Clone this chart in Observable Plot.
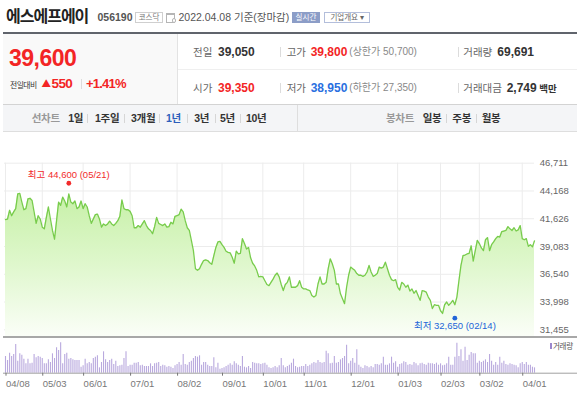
<!DOCTYPE html>
<html><head><meta charset="utf-8">
<script src="https://cdn.jsdelivr.net/npm/d3@7"></script>
<script src="https://cdn.jsdelivr.net/npm/@observablehq/plot@0.6"></script>
<style>
body{margin:0;width:580px;height:397px;overflow:hidden;background:#fff;position:relative;font-family:"Liberation Sans","Noto Sans CJK KR",sans-serif}
.a{position:absolute;white-space:nowrap;line-height:16px;height:16px}
.b{position:absolute;box-sizing:border-box}
.plot{position:absolute;left:0}
</style></head><body>
<script>
// ---- data ----
const closes = [
41550,41600,42400,41900,42250,42550,43900,43950,43150,42450,
42550,43450,43500,43300,42250,41200,41900,41600,40850,40700,
41750,42700,41600,40550,39750,41450,43150,42850,43600,43250,
42700,43900,43150,43000,43250,42550,42700,43250,42550,43000,
42700,41900,41200,41600,42000,42050,41600,40850,41150,41000,
41150,41400,41150,41000,41200,41450,41850,43350,42550,42450,
42450,42300,41900,40800,40800,41000,40850,41150,41450,41000,
40700,40550,40250,40900,41750,41200,41100,41000,41150,40850,
40900,41300,41150,41850,41900,42000,42500,42250,41450,40800,
40550,39650,38700,37050,36900,37050,37450,37800,37850,37800,
37600,37450,38250,39000,39500,39550,39250,39000,38650,38550,
38500,38100,37550,38650,38400,38450,39800,39350,38850,39000,
38050,37550,37300,36900,36300,36350,36300,35950,35600,35500,
35800,36100,36450,36650,36300,35600,35050,
35600,35800,36300,35350,35350,35350,35500,35950,35350,35200,
35200,35100,35050,34600,34450,34600,35650,36300,35650,35650,
35800,37050,37950,37500,36900,35650,35650,34750,34300,33850,
35350,36450,37200,37050,36900,36600,36450,36450,36350,36450,
36750,37350,36750,36350,36450,36600,37200,37100,37200,37650,
37050,36450,36050,35950,36050,35350,35100,35800,35650,35350,
35550,35000,35200,34800,35050,34600,34150,35050,35000,34900,
34450,34150,33400,33750,33700,33700,33200,32950,33750,34000,
33700,33900,34150,33750,34450,35950,37350,38250,38300,38400,
38450,39150,37750,38700,39650,39350,38950,38700,39700,39900,
38700,39250,39500,39800,40000,39950,40450,40500,40550,40900,
40700,40550,40800,40500,40600,41000,39800,39700,39800,39100,
39250,39050,39600];
const volumes = [
50,38,60,50,56,86,36,58,54,42,28,42,28,30,56,46,50,48,44,28,
28,40,32,58,44,76,68,91,28,56,60,42,44,40,38,38,38,18,22,42,
28,32,28,44,48,52,16,32,64,40,32,38,42,26,36,20,22,24,44,64,
20,24,24,30,30,32,22,24,20,20,20,28,20,28,30,32,20,24,22,18,
20,18,14,22,26,32,24,56,26,24,32,36,44,50,48,52,24,32,32,24,
20,20,46,16,30,12,14,16,20,24,28,24,34,28,24,20,50,18,16,20,
14,32,30,28,28,26,28,30,24,16,14,16,20,16,22,44,22,
16,20,24,30,42,20,16,18,20,20,26,20,24,28,32,30,38,32,30,32,
66,58,28,30,50,30,32,40,44,50,84,28,36,44,30,70,24,18,14,22,
20,16,20,16,26,26,24,28,48,24,24,28,48,30,34,18,26,28,34,32,
24,26,24,32,28,22,28,30,26,24,30,28,28,26,30,24,28,22,24,28,
48,24,24,48,90,50,70,36,78,38,54,62,58,58,30,36,32,36,40,32,
56,36,24,32,24,48,30,36,26,24,28,26,24,22,16,28,32,26,32,24,
24,18,16];
const tickIdx    = [0, 18, 38, 61, 84, 106, 126, 146, 169, 192, 213, 232, 253];
const tickLabels = ["04/08","05/03","06/01","07/01","08/02","09/01","10/01","11/01","12/01","01/03","02/03","03/02","04/01"];
const yTicks = [31455, 33998, 36540, 39083, 41626, 44168, 46711];
const markIdx   = [31, 220];
const markVal   = [44600, 32650];
const markText  = ["최고 44,600 (05/21)", "최저 32,650 (02/14)"];
const markColor = ["#f22b2b", "#2265d8"];
const bottomVal = 30750;

// ---- html helpers ----
function T(txt, x, cy, css, w, align, lh) {
  const s = document.createElement("span");
  const L = lh || 16;
  s.className = "a"; s.textContent = txt;
  s.style.cssText = css;
  s.style.lineHeight = L + "px"; s.style.height = L + "px";
  s.style.left = x + "px"; s.style.top = (cy - L / 2) + "px";
  if (w) { s.style.width = w + "px"; s.style.textAlign = align || "center"; }
  document.body.appendChild(s); return s;
}
function B(x, y, w, h, css) {
  const d = document.createElement("div");
  d.className = "b"; d.style.cssText = css;
  Object.assign(d.style, {left: x + "px", top: y + "px", width: w + "px", height: h + "px"});
  document.body.appendChild(d); return d;
}
const KR = '"Noto Sans CJK KR"';
const LS = '"Liberation Sans","Noto Sans CJK KR"';

// header
T("에스에프에이", 6, 15, `font:bold 16px ${KR};letter-spacing:-1px;color:#222`);
T("056190", 97.5, 16.5, `font:bold 10.5px ${LS};color:#555`);
B(135, 11.5, 28, 11.5, "border:1px solid #cfcfcf;background:#fff");
T("코스닥", 135, 17.2, `font:7.5px ${KR};color:#777`, 28);
B(166, 13, 9, 9.5, "border:1px solid #b5b5b5;border-top:2px solid #b5b5b5");
B(171.5, 18, 4.5, 4.5, "border:1px solid #b5b5b5;border-radius:50%;background:#fff");
T("2022.04.08 기준(장마감)", 178.5, 16.8, `font:10.5px ${LS};color:#555`);
B(291.7, 11.5, 28.5, 11.5, "background:#8c9dc7");
T("실시간", 291.7, 17.2, `font:7.5px ${KR};color:#fff`, 28.5);
B(324.3, 11.5, 45.5, 11.5, "border:1px solid #b3bedb;background:#fff");
T("기업개요 ▾", 324.3, 17.2, `font:7.5px ${KR};color:#666`, 45.5);

// info panel
B(3, 31.5, 574, 2, "background:#60646c");
B(3, 33.5, 174, 71, "background:#f9f9f9");
B(177, 33.5, 1, 71, "background:#e3e3e3");
B(178, 69, 399, 1, "background:#efefef");
const RED = "#f32525", BLUE = "#2a6fe0";
T("39,600", 9, 58.3, `font:bold 23px "Liberation Sans";color:${RED};letter-spacing:-0.5px`, 0, 0, 18);
T("전일대비", 10, 84, `font:7.8px ${KR};color:#333;letter-spacing:-0.5px`, 0, 0, 11);
T("▲", 41.5, 83.5, `font:9.5px ${KR};color:${RED}`, 0, 0, 11);
T("550", 51.5, 83.8, `font:bold 13.5px "Liberation Sans";color:${RED};letter-spacing:-0.6px`, 0, 0, 12);
B(80.5, 78.5, 1, 10, "background:#dcdcdc");
T("+1.41%", 86, 83.8, `font:bold 13px "Liberation Sans";color:${RED};letter-spacing:-0.8px`, 0, 0, 12);

const lab = `font:10.5px ${KR};color:#666`;
const val = (c) => `font:bold 12px ${LS};color:${c}`;
const sub = `font:10px ${LS};color:#888`;
[[51.7, "전일", "39,050", "#333", "고가", "39,800", RED, "(상한가 50,700)", "거래량", "69,691"],
 [87.7, "시가", "39,350", RED, "저가", "38,950", BLUE, "(하한가 27,350)", "거래대금", "2,749"]]
.forEach(r => {
  const cy = r[0];
  T(r[1], 193, cy, lab); T(r[2], 218, cy, val(r[3]));
  B(280, cy - 5, 1, 10, "background:#dcdcdc");
  T(r[4], 286.7, cy, lab); T(r[5], 310.7, cy, val(r[6])); T(r[7], 349.3, cy, sub);
  B(458.3, cy - 5, 1, 10, "background:#dcdcdc");
  T(r[8], 463.3, cy, lab); T(r[9], r[8] === "거래량" ? 497.3 : 506.7, cy, val("#333"));
});
T("백만", 539.3, 87.7, `font:bold 9.5px ${KR};color:#333`);

// tab bar
B(3, 104, 574, 27.5, "background:#f4f5f7;border-top:1px solid #d3d3d3;border-bottom:1px solid #dedede");
B(296.7, 105, 1, 25.5, "background:#dedede");
const tab = (c) => `font:bold 10.5px ${LS};color:${c};letter-spacing:-0.3px`;
T("선차트", 31.7, 118.3, tab("#999"));
[["1일",68.3],["1주일",95],["3개월",131],["1년",166],["3년",194.3],["5년",220],["10년",246]]
  .forEach(([s,x]) => T(s, x, 118.3, tab(s === "1년" ? "#2d5fbb" : "#333")));
[87.3,124,159.3,187.3,215,240,446,475.7].forEach(x => B(x, 114, 1, 9, "background:#d6d6d6"));
T("봉차트", 386, 118.3, tab("#999"));
[["일봉",422.7],["주봉",452.3],["월봉",481.7]].forEach(([s,x]) => T(s, x, 118.3, tab("#333")));

// ---- price chart ----
const pts = closes.map((p, i) => ({i, p}));
const marks = markIdx.map((i, k) => ({i, v: markVal[k], t: markText[k], c: markColor[k], k}));
const price = Plot.plot({
  width: 580, height: 197, marginTop: 22.7, marginBottom: 7.7, marginLeft: 0, marginRight: 0,
  x: {domain: [0, closes.length - 1], range: [5, 534], axis: null},
  y: {domain: [31455, 46711], axis: null},
  style: {fontFamily: '"Liberation Sans","Noto Sans CJK KR",sans-serif', background: "transparent", overflow: "visible"},
  marks: [
    Plot.ruleY(yTicks, {x1: -0.5, x2: closes.length - 1, stroke: "#ececec"}),
    Plot.ruleX(tickIdx, {y1: 46711, y2: bottomVal, stroke: "#ececec"}),
    Plot.areaY(pts, {x: "i", y1: bottomVal, y2: "p", fill: "url(#pg)"}),
    Plot.lineY(pts, {x: "i", y: "p", stroke: "#78cc4c", strokeWidth: 1.3}),
    Plot.dot(marks, {x: "i", y: "v", r: 2.4, fill: "c", filter: d => d.k === 0, dy: -3}),
    Plot.dot(marks, {x: "i", y: "v", r: 2.4, fill: "c", filter: d => d.k === 1, dy: 1.4}),
    Plot.text(marks, {x: "i", y: "v", text: "t", fill: "c", fontSize: 9.5, filter: d => d.k === 0, dy: -11.7}),
    Plot.text(marks, {x: "i", y: "v", text: "t", fill: "c", fontSize: 9.5, filter: d => d.k === 1, dy: 9.4}),
    Plot.text(yTicks, {x: () => closes.length - 1, y: d => d, text: d => d3.format(",")(d), textAnchor: "start", dx: 5.3, fill: "#666", fontSize: 9.5})
  ]
});
price.classList.add("plot");
price.style.top = "140px";
const ns = "http://www.w3.org/2000/svg";
const defs = document.createElementNS(ns, "defs");
defs.innerHTML = '<linearGradient id="pg" gradientUnits="userSpaceOnUse" x1="0" y1="30" x2="0" y2="197"><stop offset="0" stop-color="#bfee9c"/><stop offset="0.55" stop-color="#def7cb"/><stop offset="1" stop-color="#fbfef8"/></linearGradient>';
price.insertBefore(defs, price.firstChild);
document.body.appendChild(price);

B(3, 336, 574, 2, "background:#a8a8a8");

// ---- volume chart ----
const vol = Plot.plot({
  width: 580, height: 60, marginTop: 5.3, marginBottom: 24.3, marginLeft: 3, marginRight: 3,
  x: {domain: [0, closes.length - 1], range: [5, 534]},
  y: {domain: [0, 91], axis: null},
  style: {fontFamily: '"Liberation Sans",sans-serif', background: "transparent", overflow: "visible"},
  marks: [
    Plot.ruleX(volumes, {x: (d, i) => i, y1: 0, y2: d => d, stroke: "#b9a9de", strokeWidth: 1.1}),
    Plot.ruleY([0], {stroke: "#a0a0a0"}),
    Plot.axisX({ticks: tickIdx, tickFormat: d => tickLabels[tickIdx.indexOf(d)], tickSize: 3, tickPadding: 4,
      textAnchor: "start", dx: 0.5, fontSize: 9.5, color: "#777"})
  ]
});
vol.classList.add("plot");
vol.style.top = "337px";
document.body.appendChild(vol);
B(549.5, 342.5, 2, 6.5, "background:#9a86cc");
T("거래량", 553, 345.7, `font:7.5px ${KR};color:#555;letter-spacing:-0.3px`);
</script>
</body></html>
